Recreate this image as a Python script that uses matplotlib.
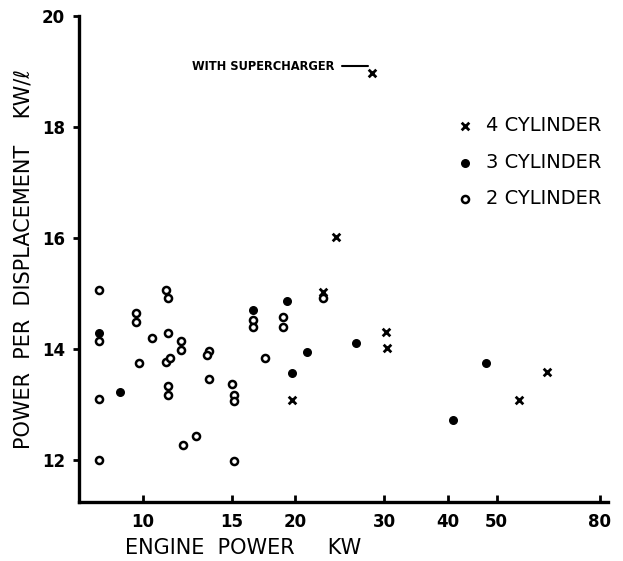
import matplotlib
matplotlib.use("Agg")
import matplotlib.pyplot as plt
from matplotlib.ticker import FixedLocator, FixedFormatter, NullLocator

# ---- data ----
two_cyl_x = [8.2, 8.2, 8.2, 8.2, 9.7, 9.7, 9.8, 10.4, 11.1, 11.2, 11.2, 11.1, 11.3,
             11.2, 11.2, 11.9, 11.9, 12.0, 12.7, 13.5, 13.4, 13.5, 15.0, 15.1, 15.1,
             15.1, 16.5, 16.5, 17.4, 18.9, 18.9, 22.7]
two_cyl_y = [15.06, 14.14, 13.09, 11.99, 14.65, 14.48, 13.74, 14.19, 15.06, 14.91, 14.29,
             13.77, 13.84, 13.33, 13.17, 14.14, 13.98, 12.27, 12.43, 13.96, 13.89, 13.45,
             13.36, 13.17, 13.06, 11.98, 14.52, 14.40, 13.83, 14.57, 14.40, 14.91]

three_cyl_x = [8.2, 9.0, 16.5, 19.3, 21.1, 26.4, 19.7, 47.6, 41.0]
three_cyl_y = [14.29, 13.23, 14.70, 14.87, 13.94, 14.10, 13.57, 13.74, 12.72]

four_cyl_x = [24.1, 22.7, 19.7, 30.2, 30.4, 63.0, 55.4, 28.4]
four_cyl_y = [16.01, 15.03, 13.08, 14.30, 14.01, 13.59, 13.07, 18.97]

supercharged_x = 28.4
supercharged_y = 18.97

x_ticks = [10, 15, 20, 30, 40, 50, 80]
x_tick_labels = ["10", "15", "20", "30", "40", "50", "80"]
y_ticks = [12, 14, 16, 18, 20]
y_tick_labels = ["12", "14", "16", "18", "20"]

# ---- figure ----
fig = plt.figure(figsize=(6.23, 5.61), dpi=100)
ax = fig.add_axes([0.1268, 0.1052, 0.849, 0.8663])

ax.set_xscale("log")
ax.set_xlim(7.47, 83.0)
ax.set_ylim(11.24, 20.0)

ax.scatter(four_cyl_x, four_cyl_y, marker="x", s=30, c="black", linewidths=2.0,
           label="4 CYLINDER", zorder=3)
ax.scatter(three_cyl_x, three_cyl_y, marker="o", s=30, c="black", edgecolors="black",
           label="3 CYLINDER", zorder=3)
ax.scatter(two_cyl_x, two_cyl_y, marker="o", s=26, facecolors="white", edgecolors="black",
           linewidths=1.8, label="2 CYLINDER", zorder=3)

for s in ["top", "right"]:
    ax.spines[s].set_visible(False)
for s in ["left", "bottom"]:
    ax.spines[s].set_linewidth(2.4)

ax.xaxis.set_major_locator(FixedLocator(x_ticks))
ax.xaxis.set_major_formatter(FixedFormatter(x_tick_labels))
ax.xaxis.set_minor_locator(NullLocator())
ax.yaxis.set_major_locator(FixedLocator(y_ticks))
ax.yaxis.set_major_formatter(FixedFormatter(y_tick_labels))

ax.tick_params(axis="x", direction="in", length=5, width=2, labelsize=12, pad=8)
ax.tick_params(axis="y", direction="out", length=4, width=2, labelsize=12, pad=6)
for lab in ax.get_xticklabels() + ax.get_yticklabels():
    lab.set_fontweight("bold")

ax.set_xlabel("ENGINE  POWER     KW", fontsize=15, labelpad=5, x=0.31)
ax.set_ylabel("POWER  PER  DISPLACEMENT    KW/ℓ", fontsize=15, labelpad=6, y=0.50)

leg = ax.legend(loc="upper left", bbox_to_anchor=(0.685, 0.83), frameon=False,
                fontsize=14, labelspacing=0.9, handletextpad=0.8, markerscale=1.0,
                handlelength=0.6)

ax.annotate("WITH SUPERCHARGER", xy=(supercharged_x, supercharged_y),
            xytext=(-27, 5), textcoords="offset points", fontsize=8.3,
            fontweight="bold", ha="right", va="center",
            arrowprops=dict(arrowstyle="-", color="black", lw=1.5,
                            connectionstyle="angle,angleA=0,angleB=90,rad=4",
                            relpos=(1.0, 0.5), shrinkA=3, shrinkB=6))

fig.savefig("out.png", dpi=100, facecolor="white")
